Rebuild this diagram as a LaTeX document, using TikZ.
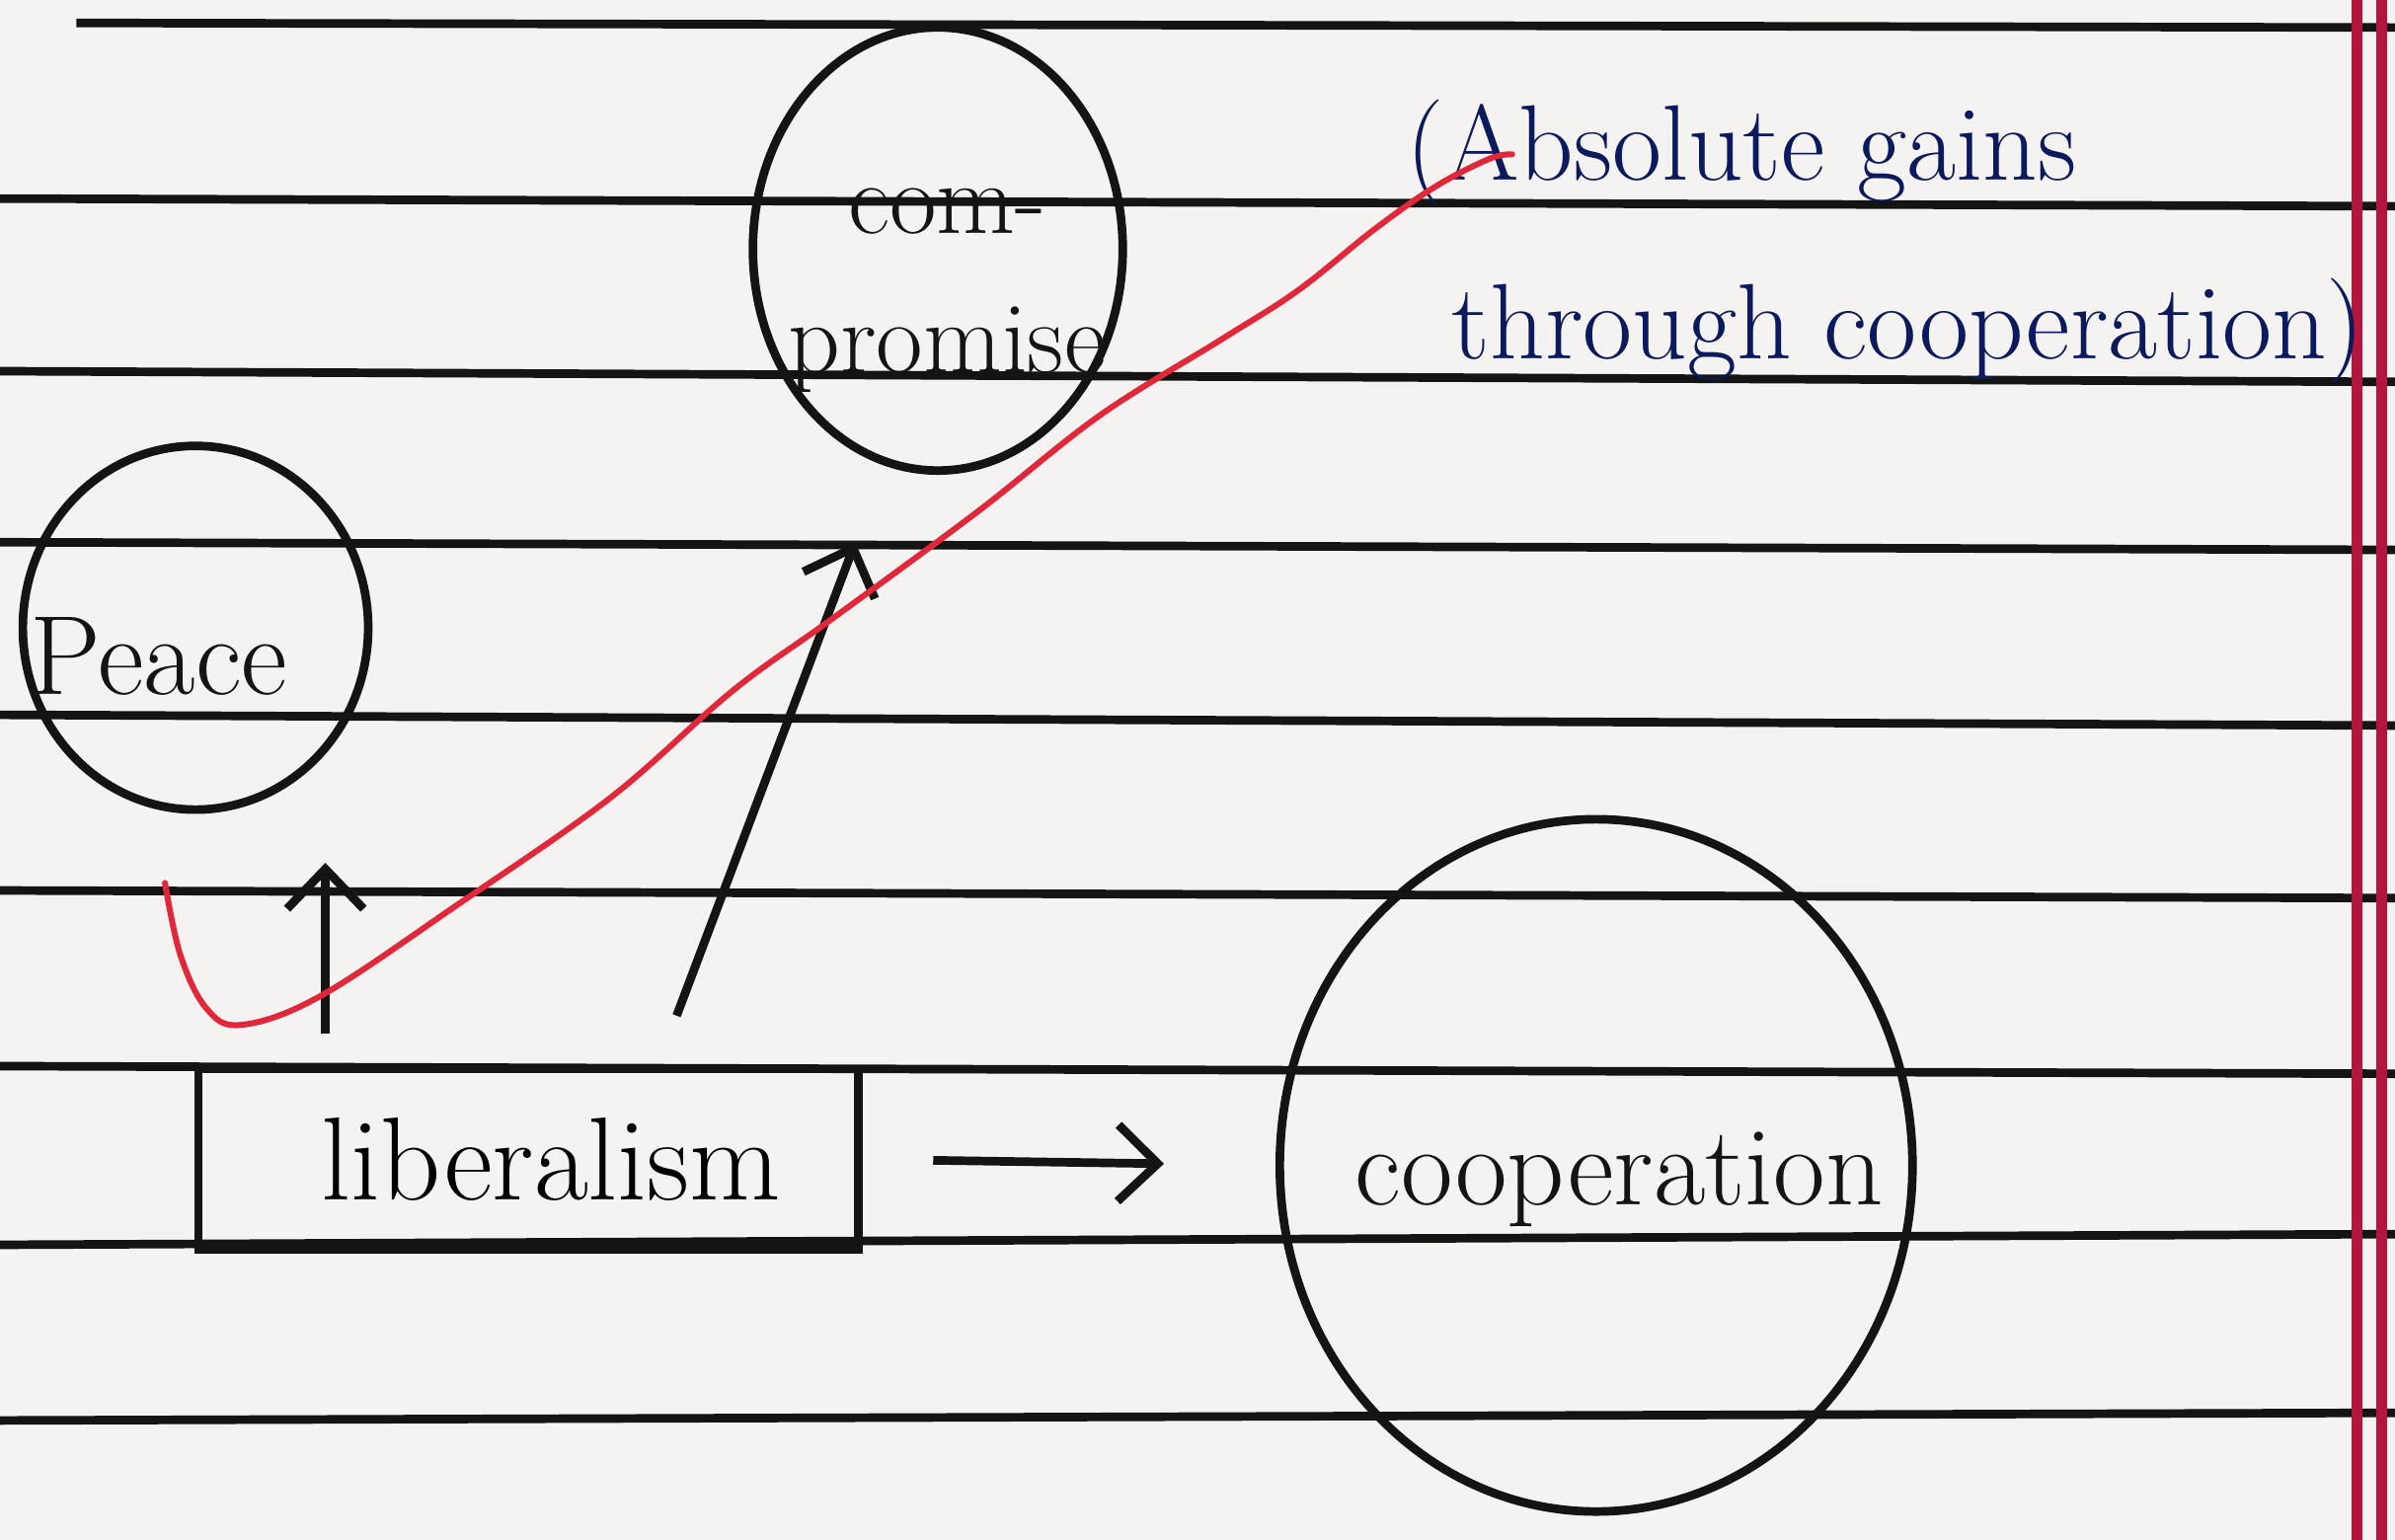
\documentclass[tikz,border=0pt]{standalone}
\usepackage{fontspec}
\usepackage{xcolor}
\usepackage{tikz}
\usetikzlibrary{arrows.meta,positioning,shapes.geometric,calc}
\definecolor{paper}{HTML}{F5F3F1}
\definecolor{ink}{HTML}{141414}
\definecolor{blueink}{HTML}{0B1A5C}
\definecolor{redpen}{HTML}{E0283A}
\definecolor{marginred}{HTML}{B3153F}

\begin{document}
\begin{tikzpicture}[
        x=0.01cm, y=-0.01cm,
        >={Straight Barb[length=2.6mm,width=5mm]},
        rule/.style={ink,line width=1.6pt},
        bubble/.style={ellipse,draw=ink,line width=1.6pt,inner sep=0pt},
        word/.style={font=\fontsize{21}{24}\selectfont,text=ink,inner sep=0pt},
        box/.style={rectangle,draw=ink,line width=1.6pt,minimum width=4.32cm,minimum height=1.18cm,font=\fontsize{22}{24}\selectfont},
        pen/.style={ink,line width=1.6pt,->},
        note/.style={font=\fontsize{20}{24}\selectfont,text=blueink,inner sep=0pt,anchor=base west}
      ]
        \useasboundingbox[fill=paper] (0,0) rectangle (1568,1008);
        % ruled paper
        \draw[rule] (50,15) -- (1568,18);
        \foreach \yl/\yr in {130/135,243/250,355/360,468/475,583/588,698/703,815/808,930/925}
          \draw[rule] (0,\yl) -- (1568,\yr);
        \draw[marginred,line width=2pt] (1543,0) -- (1543,1008);
        \draw[marginred,line width=2pt] (1559,0) -- (1559,1008);
        % ideas
        \node[bubble,minimum width=2.26cm,minimum height=2.38cm] (peace) at (128,411) {};
        \node[bubble,minimum width=2.42cm,minimum height=2.9cm]  (comp)  at (614,163) {};
        \node[bubble,minimum width=4.14cm,minimum height=4.53cm] (coop)  at (1045,763) {};
        \node[box] (lib) at (346,759) {\hspace*{0.3cm}liberalism};
        \node[word] (peaceT) at (104,430) {Peace};
        \node[word,align=center,font=\fontsize{19}{26}\selectfont] (compT) at (620,190) {com-\\promise};
        \node[word] (coopT) at (1060,772) {cooperation};
        % arrows
        \coordinate (tailP) at (213,677);
        \coordinate (tailC) at (443,665);
        \coordinate (tipC)  at (560,355);
        \draw[pen,shorten >=0.32cm] (tailP) -- (tailP |- peace.south);
        \draw[pen] (tailC) -- (tipC);
        \draw[pen,shorten <=0.46cm,shorten >=0.73cm] (lib.east) -- (coop.west);
        % note in blue
        \node[note] (gainsA) at (920,118) {(Absolute gains};
        \node[note] (gainsB) at (950,235) {through cooperation)};
        % red pen stroke
        \draw[redpen,line width=1.1pt,line cap=round] plot[smooth,tension=0.6] coordinates {
          (108,578) (118,625) (135,660) (158,671) (210,652) (300,592) (400,522)
          (480,452) (545,405) (640,335) (720,272) (800,222) (850,190) (900,150)
          (940,122) (975,104) (990,101)};
      \end{tikzpicture}
\end{document}
